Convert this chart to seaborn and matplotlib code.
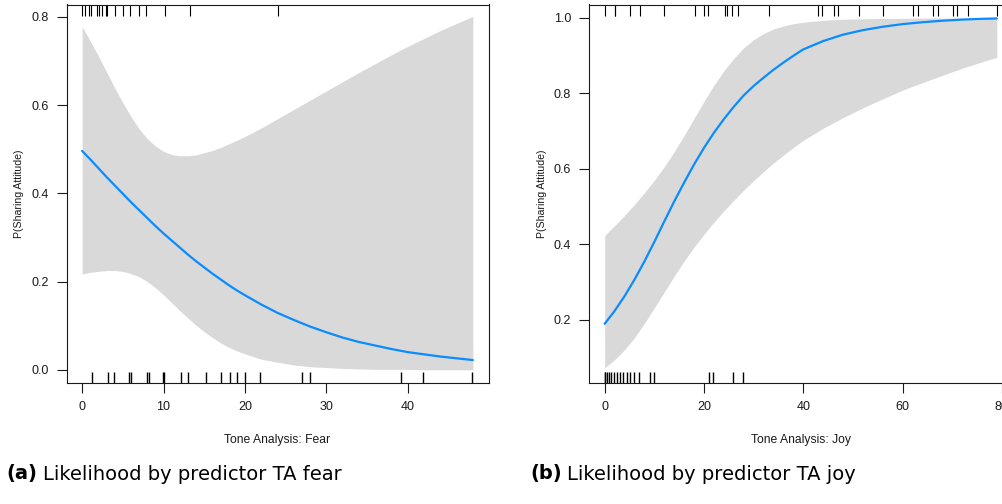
import matplotlib
matplotlib.use("Agg")
import matplotlib.pyplot as plt
import seaborn as sns

# -- Data ----------------------------------------------------------------------
# (a) Tone Analysis: Fear
fear_x = [0, 1, 2, 3, 4, 5, 6, 7, 8, 9, 10, 11, 12, 13, 14, 15, 16, 17, 18, 19,
          20, 22, 24, 26, 28, 30, 32, 34, 36, 38, 40, 42, 44, 46, 48]
fear_p = [0.496, 0.477, 0.457, 0.437, 0.418, 0.399, 0.380, 0.362, 0.344, 0.326,
          0.309, 0.293, 0.277, 0.261, 0.246, 0.232, 0.218, 0.205, 0.192, 0.180,
          0.169, 0.148, 0.129, 0.113, 0.098, 0.085, 0.073, 0.063, 0.055, 0.047,
          0.040, 0.035, 0.030, 0.026, 0.022]
fear_hi = [0.778, 0.745, 0.711, 0.675, 0.639, 0.605, 0.574, 0.546, 0.524, 0.507,
           0.495, 0.488, 0.485, 0.485, 0.487, 0.492, 0.497, 0.504, 0.512, 0.520,
           0.529, 0.548, 0.569, 0.590, 0.611, 0.632, 0.653, 0.674, 0.694, 0.714,
           0.733, 0.751, 0.769, 0.785, 0.801]
fear_lo = [0.217, 0.221, 0.223, 0.225, 0.225, 0.223, 0.218, 0.211, 0.200, 0.186,
           0.170, 0.152, 0.134, 0.117, 0.101, 0.086, 0.073, 0.061, 0.051, 0.043,
           0.036, 0.024, 0.017, 0.011, 0.007, 0.005, 0.003, 0.002, 0.001, 0.001,
           0.001, 0.000, 0.000, 0.000, 0.000]
fear_rug_1 = [0, 0.3, 0.9, 1.1, 1.8, 2.1, 2.4, 2.9, 3.1, 4.0, 5.0, 5.9, 7.0, 7.9,
              10.2, 13.2, 24.1]
fear_rug_0 = [1.2, 3.2, 3.9, 5.8, 6.0, 8.0, 8.2, 9.9, 10.1, 12.1, 13.0, 15.2, 17.0,
              18.2, 19.0, 20.0, 21.8, 27.0, 28.0, 39.2, 41.9, 47.9]
fear_xticks = [0, 10, 20, 30, 40]
fear_yticks = [0.0, 0.2, 0.4, 0.6, 0.8]

# (b) Tone Analysis: Joy
joy_x = [0, 2, 4, 6, 8, 10, 12, 14, 16, 18, 20, 22, 24, 26, 28, 30, 32, 34, 36,
         38, 40, 44, 48, 52, 56, 60, 64, 68, 72, 76, 79]
joy_p = [0.189, 0.223, 0.262, 0.306, 0.354, 0.406, 0.460, 0.513, 0.563, 0.611,
         0.655, 0.695, 0.731, 0.764, 0.794, 0.819, 0.841, 0.862, 0.881, 0.899,
         0.916, 0.938, 0.955, 0.967, 0.976, 0.983, 0.988, 0.992, 0.995, 0.997, 0.998]
joy_hi = [0.423, 0.449, 0.476, 0.505, 0.536, 0.569, 0.605, 0.645, 0.688, 0.733,
          0.778, 0.821, 0.859, 0.892, 0.920, 0.942, 0.958, 0.970, 0.978, 0.984,
          0.988, 0.993, 0.996, 0.997, 0.998, 0.998, 0.999, 0.999, 0.999, 0.999, 0.999]
joy_lo = [0.072, 0.094, 0.120, 0.152, 0.190, 0.231, 0.273, 0.315, 0.355, 0.392,
          0.426, 0.458, 0.488, 0.516, 0.543, 0.568, 0.592, 0.615, 0.636, 0.656,
          0.675, 0.707, 0.735, 0.761, 0.785, 0.808, 0.828, 0.847, 0.866, 0.883, 0.895]
joy_rug_1 = [0.1, 2.0, 2.1, 5.0, 7.1, 11.9, 18.1, 20.0, 20.8, 24.2, 24.7, 25.7,
             26.9, 33.1, 43.0, 43.8, 46.2, 47.0, 51.2, 56.1, 62.2, 63.2, 66.1, 67.1,
             70.1, 70.9, 73.1, 79.1]
joy_rug_0 = [0, 0.1, 0.5, 0.8, 1.2, 1.8, 2.4, 3.0, 3.7, 4.4, 5.0, 5.9, 6.9, 9.1,
             9.9, 21.0, 21.8, 25.9, 27.9]
joy_xticks = [0, 20, 40, 60, 80]
joy_yticks = [0.2, 0.4, 0.6, 0.8, 1.0]

ylabel = "P(Sharing Attitude)"
captions = [("(a)", "Likelihood by predictor TA fear"),
            ("(b)", "Likelihood by predictor TA joy")]

LINE_COL = "#0A8CFF"
BAND_COL = "#D9D9D9"
INK = "#1A1A1A"

sns.set_theme(style="ticks")
plt.rcParams["font.family"] = ["Liberation Sans", "DejaVu Sans"]
plt.rcParams["axes.linewidth"] = 0.8


def panel(ax, x, p, lo, hi, rug0, rug1, xticks, yticks, xlim, ylim, xlabel):
    ax.fill_between(x, lo, hi, color=BAND_COL, lw=0)
    sns.lineplot(x=x, y=p, color=LINE_COL, lw=1.6, ax=ax)
    # rugs: failures at the bottom, successes along the top
    sns.rugplot(x=rug0, height=0.03, color="black", lw=0.8, ax=ax)
    ax.vlines(rug1, 0.97, 1.0, color="black", lw=0.8,
              transform=ax.get_xaxis_transform())
    ax.set_xlim(*xlim)
    ax.set_ylim(*ylim)
    ax.set_xticks(xticks)
    ax.set_yticks(yticks)
    ax.set_yticklabels([f"{v:.1f}" for v in yticks])
    ax.tick_params(length=7, width=0.8, labelsize=9, color=INK,
                   labelcolor=INK, pad=6)
    for s in ax.spines.values():
        s.set_color(INK)
        s.set_visible(True)
    ax.set_xlabel(xlabel, fontsize=8.7, color=INK, labelpad=15)
    ax.set_ylabel(ylabel, fontsize=7.6, color=INK, labelpad=5)


fig = plt.figure(figsize=(10.02, 5.04), dpi=100)
W, H = 1002, 504
ax1 = fig.add_axes([66.5 / W, 1 - 383 / H, (488.5 - 66.5) / W, (383 - 4.5) / H])
ax2 = fig.add_axes([589 / W, 1 - 383 / H, (1013 - 589) / W, (383 - 4.5) / H])

panel(ax1, fear_x, fear_p, fear_lo, fear_hi, fear_rug_0, fear_rug_1,
      fear_xticks, fear_yticks, (-1.92, 49.92), (-0.030, 0.828),
      "Tone Analysis: Fear")
panel(ax2, joy_x, joy_p, joy_lo, joy_hi, joy_rug_0, joy_rug_1,
      joy_xticks, joy_yticks, (-3.16, 82.26), (0.032, 1.035),
      "Tone Analysis: Joy")

for (tag, txt), x0 in zip(captions, [6, 530]):
    fig.text(x0 / W, 1 - 474 / H, tag, fontsize=14, fontweight="bold",
             family="DejaVu Sans", va="center", ha="left", color="black")
    fig.text((x0 + 37) / W, 1 - 474 / H, txt, fontsize=14,
             family="DejaVu Sans", va="center", ha="left", color="black")

fig.savefig("out.png", dpi=100)
